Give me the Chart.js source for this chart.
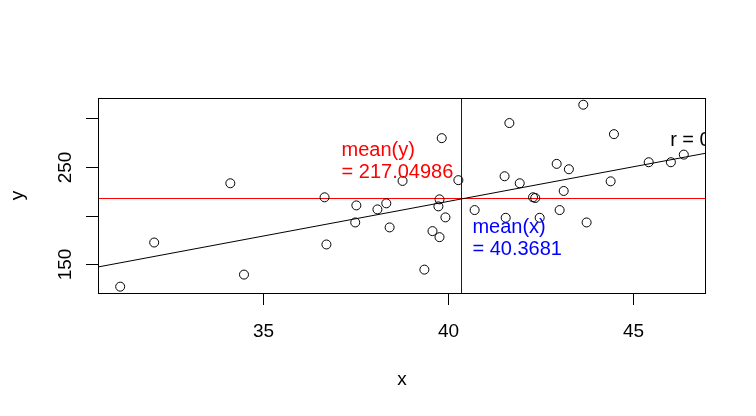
<!DOCTYPE html>
<html>
<head>
<meta charset="utf-8">
<script src="https://cdn.jsdelivr.net/npm/chart.js@4"></script>
<style>
  html, body { margin: 0; padding: 0; background: #fff; }
  canvas { display: block; }
</style>
</head>
<body>
<canvas id="scatter" width="756" height="416"></canvas>
<script>
// valores
const xs = [31.13, 32.05, 34.11, 34.48, 36.66, 36.71, 37.52, 37.49, 38.09, 38.33,
  38.42, 38.77, 39.83, 40.28, 39.77, 39.74, 39.93, 39.58, 39.77, 39.36,
  40.72, 41.56, 41.66, 41.53, 41.94, 42.30, 42.36, 42.48, 42.94, 43.27,
  43.13, 43.02, 43.66, 43.75, 44.49, 44.40, 45.43, 46.03, 46.38];
const ys = [127.0, 172.3, 233.1, 139.4, 218.7, 170.3, 210.4, 192.9, 206.3, 212.5,
  187.8, 235.5, 279.4, 236.3, 216.6, 209.4, 198.1, 184.0, 177.8, 144.5,
  205.6, 197.7, 294.9, 240.3, 233.1, 218.7, 218.0, 197.7, 253.0, 247.5,
  225.2, 205.6, 313.7, 192.9, 283.5, 235.1, 254.7, 254.7, 262.5];

const meanX = 40.3681;
const meanY = 217.04986;
const slope = 7.1;
const intercept = meanY - slope * meanX;

const xTicks = [35, 40, 45];
const xTickLabels = ['35', '40', '45'];
const yTicks = [150, 200, 250, 300];
const yTickLabels = ['150', '', '250', ''];

const xRange = [30.53, 46.98];
const yRange = [120.5, 320.6];

const FONT = 'Arial, "Liberation Sans", sans-serif';

const rAxes = {
  id: 'rAxes',
  beforeDatasetsDraw(chart) {
    // lineas de las medias (abline h / v)
    const { ctx, chartArea: a, scales: { x, y } } = chart;
    ctx.save();
    ctx.lineWidth = 1;
    const hy = Math.floor(y.getPixelForValue(meanY)) + 0.5;
    ctx.strokeStyle = '#ff0000';
    ctx.beginPath();
    ctx.moveTo(a.left, hy);
    ctx.lineTo(a.right, hy);
    ctx.stroke();
    const vx = Math.floor(x.getPixelForValue(meanX)) + 0.5;
    ctx.strokeStyle = '#0000ff';
    ctx.beginPath();
    ctx.moveTo(vx, a.top);
    ctx.lineTo(vx, a.bottom);
    ctx.stroke();
    ctx.restore();
  },
  afterDraw(chart) {
    const { ctx, chartArea: a, scales: { x, y } } = chart;
    ctx.save();
    ctx.strokeStyle = '#000';
    ctx.lineWidth = 1;
    ctx.strokeRect(a.left + 0.5, a.top + 0.5, a.right - a.left - 1, a.bottom - a.top);

    ctx.fillStyle = '#000';
    ctx.font = '19px ' + FONT;
    ctx.textAlign = 'center';
    ctx.textBaseline = 'alphabetic';
    xTicks.forEach((v, i) => {
      const px = Math.round(x.getPixelForValue(v)) + 0.5;
      ctx.beginPath();
      ctx.moveTo(px, a.bottom);
      ctx.lineTo(px, a.bottom + 12);
      ctx.stroke();
      ctx.fillText(xTickLabels[i], px, a.bottom + 44);
    });
    yTicks.forEach((v, i) => {
      const py = Math.round(y.getPixelForValue(v)) + 0.5;
      ctx.beginPath();
      ctx.moveTo(a.left - 12, py);
      ctx.lineTo(a.left, py);
      ctx.stroke();
      if (yTickLabels[i]) {
        ctx.save();
        ctx.translate(a.left - 27.5, py);
        ctx.rotate(-Math.PI / 2);
        ctx.fillText(yTickLabels[i], 0, 0);
        ctx.restore();
      }
    });
    ctx.fillText('x', (a.left + a.right) / 2, a.bottom + 92);
    ctx.save();
    ctx.translate(23, (a.top + a.bottom) / 2);
    ctx.rotate(-Math.PI / 2);
    ctx.fillText('y', 0, 0);
    ctx.restore();

    // textos dentro del area, recortados como en R
    ctx.beginPath();
    ctx.rect(a.left, a.top, a.right - a.left, a.bottom - a.top);
    ctx.clip();
    ctx.font = '20px ' + FONT;
    ctx.textAlign = 'left';
    ctx.fillStyle = '#ff0000';
    let px = x.getPixelForValue(37.12), py = y.getPixelForValue(261.5);
    ctx.fillText('mean(y)', px, py);
    ctx.fillText('= ' + meanY, px, py + 22);
    ctx.fillStyle = '#0000ff';
    px = x.getPixelForValue(40.66); py = y.getPixelForValue(182.2);
    ctx.fillText('mean(x)', px, py);
    ctx.fillText('= ' + meanX, px, py + 22);
    ctx.fillStyle = '#000';
    px = x.getPixelForValue(46.01); py = y.getPixelForValue(271.0);
    ctx.fillText('r = 0.49', px, py);
    ctx.restore();
  }
};

new Chart(document.getElementById('scatter').getContext('2d'), {
  type: 'scatter',
  data: {
    datasets: [
      {
        data: xs.map((v, i) => ({ x: v, y: ys[i] })),
        pointStyle: 'circle',
        pointRadius: 4.5,
        borderWidth: 1,
        borderColor: '#000',
        backgroundColor: 'rgba(0,0,0,0)',
      },
      {
        // recta de regresion
        type: 'line',
        data: xRange.map(v => ({ x: v, y: intercept + slope * v })),
        borderColor: '#000',
        borderWidth: 1,
        pointRadius: 0,
        fill: false,
      },
    ],
  },
  options: {
    responsive: false,
    animation: false,
    devicePixelRatio: 1,
    events: [],
    layout: { padding: { left: 98, top: 98, right: 50, bottom: 123 } },
    plugins: { legend: { display: false }, tooltip: { enabled: false } },
    scales: {
      x: { type: 'linear', min: xRange[0], max: xRange[1], display: false },
      y: { type: 'linear', min: yRange[0], max: yRange[1], display: false },
    },
  },
  plugins: [rAxes],
});
</script>
</body>
</html>
